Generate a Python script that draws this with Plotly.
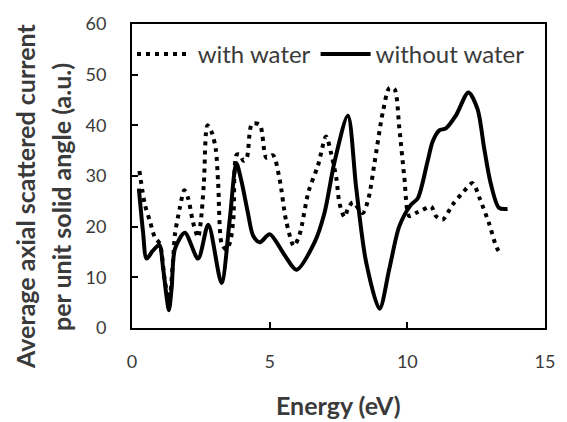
import plotly.graph_objects as go

# with water (dotted)
e_with = [0.27, 0.47, 0.65, 0.83, 1.01, 1.2, 1.35, 1.48, 1.56, 1.68, 1.74, 1.90, 2.04, 2.22, 2.40,
          2.50, 2.61, 2.74, 2.89, 3.04, 3.13, 3.26, 3.42, 3.56, 3.68, 3.80, 3.92, 4.05, 4.17,
          4.36, 4.64, 4.88, 5.12, 5.36, 5.60, 5.88, 6.09, 6.41, 6.75, 7.05, 7.23, 7.42, 7.54,
          7.72, 7.84, 8.02, 8.38, 8.59, 8.80, 9.11, 9.35, 9.53, 9.71, 9.89, 10.07, 10.31,
          10.55, 10.86, 11.04, 11.28, 11.64, 12.04, 12.37, 12.64, 12.97, 13.25, 13.42]
v_with = [31.0, 24.3, 21.1, 17.9, 16.6, 9.0, 5.5, 12.5, 18.5, 22.2, 23.8, 27.2, 25.6, 20.8, 17.9,
          21.1, 28.5, 40.0, 38.7, 35.4, 28.5, 16.6, 15.5, 16.9, 21.4, 34.2, 34.2, 33.0, 33.6,
          40.3, 40.1, 33.6, 34.1, 29.4, 21.1, 16.2, 18.5, 26.9, 32.0, 37.8, 34.5, 29.6, 24.5,
          21.9, 23.5, 24.8, 22.7, 25.6, 32.3, 42.6, 47.4, 47.2, 39.4, 29.8, 22.1, 22.7,
          23.3, 24.0, 22.1, 21.4, 24.3, 26.9, 28.6, 25.4, 20.6, 15.8, 14.4]

# without water (solid)
e_without = [0.25, 0.40, 0.53, 0.75, 0.99, 1.13, 1.26, 1.34, 1.44, 1.56, 1.92, 2.40, 2.77, 3.25,
             3.55, 3.79, 3.97, 4.21, 4.40, 4.64, 5.00, 5.54, 5.97, 6.63, 6.99, 7.36, 7.84,
             8.14, 8.50, 8.99, 9.35, 9.71, 10.13, 10.38, 10.74, 10.92, 11.16, 11.40, 11.76,
             12.22, 12.55, 12.79, 13.03, 13.33, 13.64]
v_without = [27.5, 19.0, 13.7, 15.2, 16.4, 11.8, 6.0, 3.5, 7.9, 15.6, 18.8, 13.7, 20.4, 8.9,
             21.4, 32.5, 29.1, 22.7, 18.2, 16.9, 18.5, 14.4, 11.5, 16.9, 22.7, 32.9, 41.9,
             27.8, 13.1, 3.8, 11.8, 20.1, 24.3, 25.6, 33.0, 36.8, 39.0, 39.4, 41.9,
             46.5, 43.2, 35.5, 28.5, 23.7, 23.5]

x_ticks = [0, 5, 10, 15]
y_ticks = [0, 10, 20, 30, 40, 50, 60]

TXT = "#3a3a3a"
FONT = "Lato"

fig = go.Figure()
fig.add_trace(go.Scatter(x=e_with, y=v_with, mode="lines", name=" with water",
                         line=dict(color="black", width=4, dash="4px,5px", shape="spline", smoothing=0.8)))
fig.add_trace(go.Scatter(x=e_without, y=v_without, mode="lines", name="without water",
                         line=dict(color="black", width=4, shape="spline", smoothing=0.8)))

fig.update_layout(
    width=567, height=422,
    margin=dict(l=132, r=21, t=16, b=94),
    paper_bgcolor="white", plot_bgcolor="white",
    font=dict(family=FONT, color=TXT, size=17),
    showlegend=True,
    legend=dict(orientation="h", x=0.0, xanchor="left", y=0.90, yanchor="middle",
                bgcolor="rgba(0,0,0,0)", font=dict(size=24, color=TXT),
                itemwidth=50, tracegroupgap=0),
    xaxis=dict(range=[0, 15], tickvals=x_ticks, ticks="inside", ticklen=6, tickwidth=1.5,
               tickcolor="black", showline=True, linecolor="black", linewidth=2, mirror=True,
               showgrid=False, zeroline=False, ticklabelstandoff=16,
               tickfont=dict(size=18, color=TXT)),
    yaxis=dict(range=[0, 60], tickvals=y_ticks, ticks="inside", ticklen=6, tickwidth=1.5,
               tickcolor="black", showline=True, linecolor="black", linewidth=2, mirror=True,
               showgrid=False, zeroline=False, ticklabelstandoff=20,
               tickfont=dict(size=18, color=TXT)),
    annotations=[
        dict(text="Energy (eV)", xref="paper", yref="paper", x=0.5, y=0, yshift=-77,
             xanchor="center", yanchor="middle", showarrow=False,
             font=dict(size=25, weight="bold", color=TXT)),
        dict(text="Average axial scattered current", xref="paper", yref="paper", x=0, y=0.5,
             xshift=-107, yshift=-21, textangle=-90, xanchor="center", yanchor="middle",
             showarrow=False, font=dict(size=25, weight="bold", color=TXT)),
        dict(text="per unit solid angle (a.u.)", xref="paper", yref="paper", x=0, y=0.5,
             xshift=-71, yshift=-21, textangle=-90, xanchor="center", yanchor="middle",
             showarrow=False, font=dict(size=25, weight="bold", color=TXT)),
    ],
)

fig.write_html("out.html")
